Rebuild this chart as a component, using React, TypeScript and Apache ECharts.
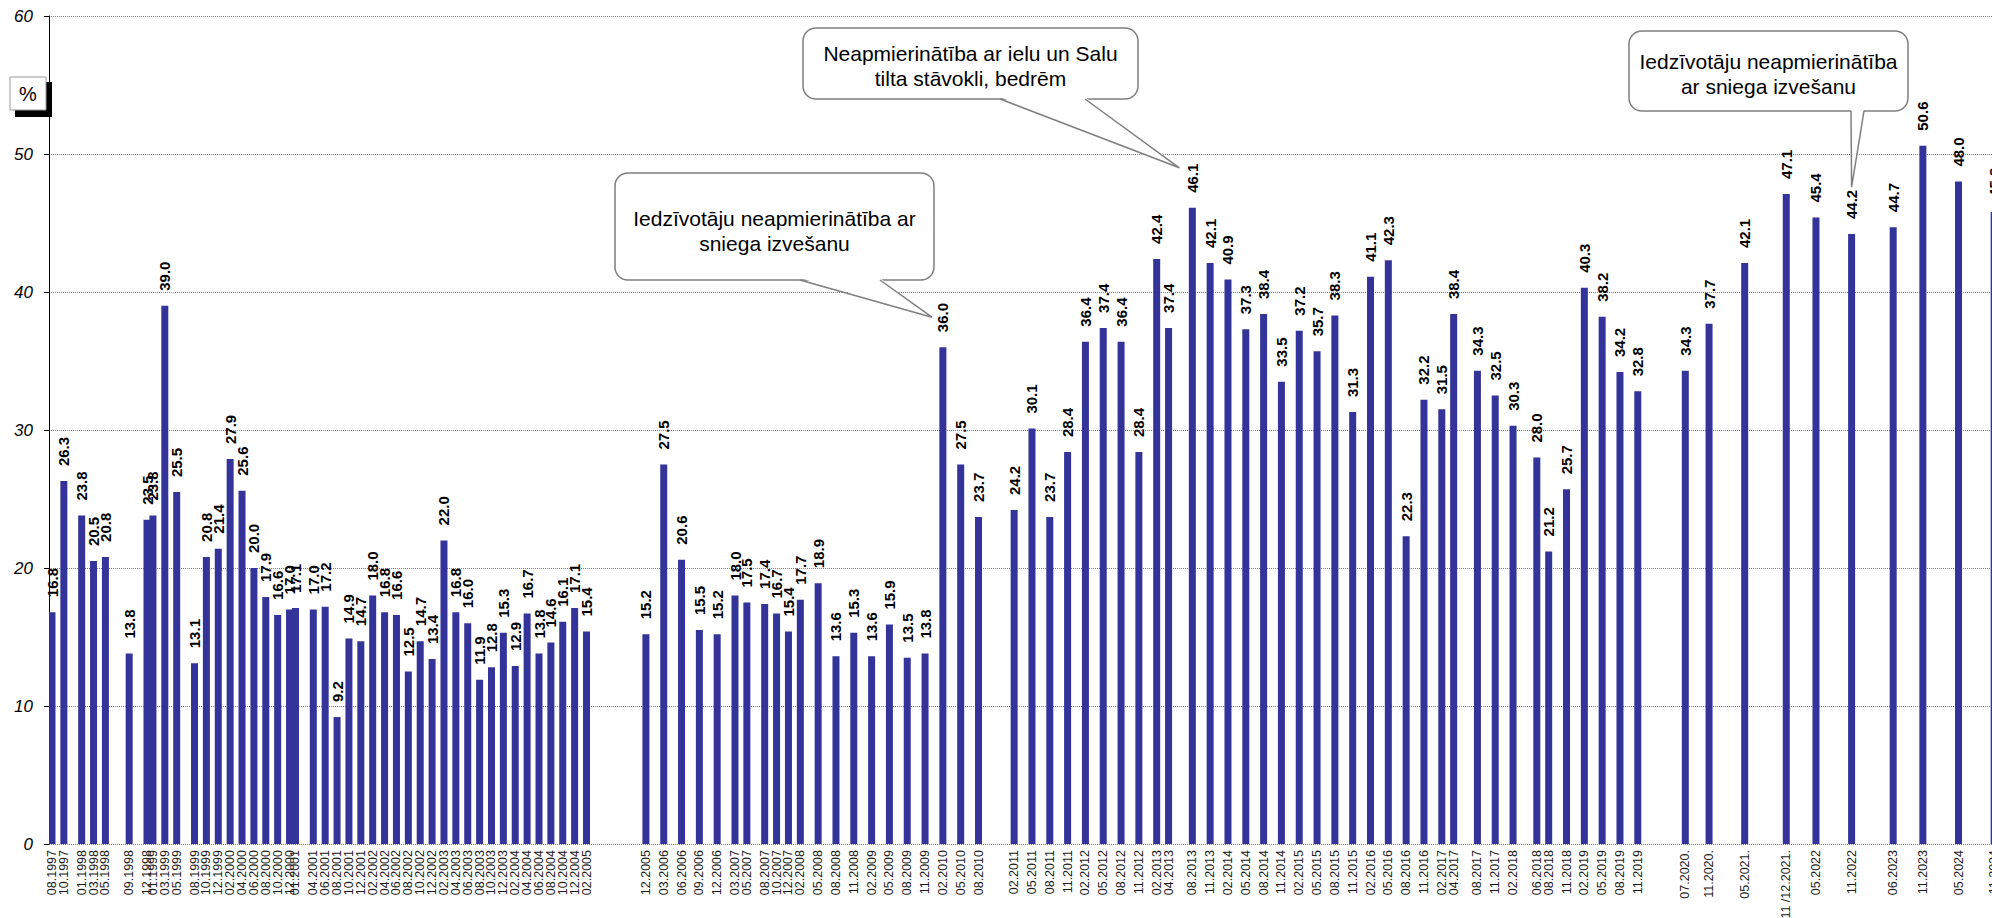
import React, { useEffect, useRef } from "react";
import * as echarts from "echarts";

// Survey periods (axis text) and share of dissatisfied residents, %
const periods: string[] = [
  "08.1997", "10.1997", "01.1998", "03.1998", "05.1998", "09.1998", "12.1998", "01.1999", "03.1999", "05.1999",
  "08.1999", "10.1999", "12.1999", "02.2000", "04.2000", "06.2000", "08.2000", "10.2000", "12.2000", "01.2001",
  "04.2001", "06.2001", "08.2001", "10.2001", "12.2001", "02.2002", "04.2002", "06.2002", "08.2002", "10.2002",
  "12.2002", "02.2003", "04.2003", "06.2003", "08.2003", "10.2003", "12.2003", "02.2004", "04.2004", "06.2004",
  "08.2004", "10.2004", "12.2004", "02.2005",
  "12.2005", "03.2006", "06.2006", "09.2006", "12.2006", "03.2007", "05.2007", "08.2007", "10.2007", "12.2007",
  "02.2008", "05.2008", "08.2008", "11.2008", "02.2009", "05.2009", "08.2009", "11.2009", "02.2010", "05.2010",
  "08.2010",
  "02.2011", "05.2011", "08.2011", "11.2011", "02.2012", "05.2012", "08.2012", "11.2012", "02.2013", "04.2013",
  "08.2013", "11.2013", "02.2014", "05.2014", "08.2014", "11.2014", "02.2015", "05.2015", "08.2015", "11.2015",
  "02.2016", "05.2016", "08.2016", "11.2016", "02.2017", "04.2017", "08.2017", "11.2017", "02.2018", "06.2018",
  "08.2018", "11.2018", "02.2019", "05.2019", "08.2019", "11.2019",
  "07.2020.", "11.2020.", "05.2021.", "11 /12.2021.", "05.2022", "11.2022", "06.2023", "11.2023", "05.2024", "11.2024",
];

const values: number[] = [
  16.8, 26.3, 23.8, 20.5, 20.8, 13.8, 23.5, 23.8, 39.0, 25.5,
  13.1, 20.8, 21.4, 27.9, 25.6, 20.0, 17.9, 16.6, 17.0, 17.1,
  17.0, 17.2, 9.2, 14.9, 14.7, 18.0, 16.8, 16.6, 12.5, 14.7,
  13.4, 22.0, 16.8, 16.0, 11.9, 12.8, 15.3, 12.9, 16.7, 13.8,
  14.6, 16.1, 17.1, 15.4,
  15.2, 27.5, 20.6, 15.5, 15.2, 18.0, 17.5, 17.4, 16.7, 15.4,
  17.7, 18.9, 13.6, 15.3, 13.6, 15.9, 13.5, 13.8, 36.0, 27.5,
  23.7,
  24.2, 30.1, 23.7, 28.4, 36.4, 37.4, 36.4, 28.4, 42.4, 37.4,
  46.1, 42.1, 40.9, 37.3, 38.4, 33.5, 37.2, 35.7, 38.3, 31.3,
  41.1, 42.3, 22.3, 32.2, 31.5, 38.4, 34.3, 32.5, 30.3, 28.0,
  21.2, 25.7, 40.3, 38.2, 34.2, 32.8,
  34.3, 37.7, 42.1, 47.1, 45.4, 44.2, 44.7, 50.6, 48.0, 45.8,
];

const yTicks = { min: 0, max: 60, interval: 10 };

// Month slots of the time axis: 08.1997 ... 01.2025
const firstYear = 1997;
const firstMonth = 8;
const slotCount = 330;

const callouts = [
  { text: "Iedzīvotāju neapmierinātība ar\nsniega izvešanu", target: "02.2010" },
  { text: "Neapmierinātība ar ielu un Salu\ntilta stāvokli, bedrēm", target: "08.2013" },
  { text: "Iedzīvotāju neapmierinātība\nar sniega izvešanu", target: "11.2022" },
];

const pad2 = (n: number) => (n < 10 ? "0" + n : "" + n);
const slotKey = (i: number) => {
  const m0 = firstMonth - 1 + i;
  return pad2((m0 % 12) + 1) + "." + (firstYear + Math.floor(m0 / 12));
};
const keyOf = (p: string) => {
  const all = p.match(/\d{2}\.\d{4}/g) || [p];
  return all[all.length - 1];
};

const categories: string[] = [];
for (let i = 0; i < slotCount; i++) categories.push(slotKey(i));
const labelByKey = new Map<string, string>();
const valueByKey = new Map<string, number>();
periods.forEach((p, i) => {
  labelByKey.set(keyOf(p), p);
  valueByKey.set(keyOf(p), values[i]);
});
const seriesData = categories.map((k) => (valueByKey.has(k) ? valueByKey.get(k)! : null));

const FONT = "'Liberation Sans', Arial, sans-serif";

// Callout layout (box rect, tail base, tail tip offset from the bar top)
const calloutLayout = [
  { x: 615, y: 173, w: 319, h: 107, b1: 800, b2: 880, dx: -11, dy: -30, ty: 231 },
  { x: 803, y: 28, w: 335, h: 71, b1: 1000, b2: 1085, dx: -13, dy: -40, ty: 66 },
  { x: 1629, y: 31, w: 279, h: 80, b1: 1851, b2: 1864, dx: 0, dy: -47, ty: 74 },
];

export default function App() {
  const ref = useRef<HTMLDivElement>(null);
  useEffect(() => {
    if (!ref.current) return;
    const chart = echarts.init(ref.current, undefined, { renderer: "svg" });
    chart.setOption({
      animation: false,
      backgroundColor: "#ffffff",
      grid: { left: 49, right: 0, top: 16, bottom: 74, containLabel: false, outerBoundsMode: "none" },
      xAxis: {
        type: "category",
        data: categories,
        boundaryGap: true,
        axisLine: { show: false },
        axisTick: { show: false },
        splitLine: { show: false },
        axisLabel: {
          interval: 0,
          rotate: 90,
          margin: 6,
          fontSize: 12.5,
          fontFamily: FONT,
          color: "#1a1a1a",
          formatter: (v: string) => labelByKey.get(v) ?? "",
        },
      },
      yAxis: {
        type: "value",
        min: yTicks.min,
        max: yTicks.max,
        interval: yTicks.interval,
        axisLine: { show: true, lineStyle: { color: "#000", width: 1 } },
        axisTick: { show: true, length: 5, lineStyle: { color: "#000" } },
        axisLabel: {
          margin: 16,
          fontSize: 17,
          fontStyle: "italic",
          fontFamily: FONT,
          color: "#000",
        },
        splitLine: { show: true, lineStyle: { color: "#7f7f7f", type: "dotted", width: 1 } },
      },
      series: [
        {
          type: "bar",
          data: seriesData,
          barWidth: 7,
          itemStyle: { color: "#333399" },
          label: {
            show: true,
            position: "top",
            rotate: 90,
            align: "left",
            verticalAlign: "middle",
            distance: 15,
            fontSize: 15,
            fontWeight: "bold",
            fontFamily: FONT,
            color: "#000",
            formatter: (p: any) => (p.value == null ? "" : Number(p.value).toFixed(1)),
          },
        },
      ],
    });

    const stroke = "#7f7f7f";
    const elements: any[] = [
      { type: "rect", z: 100, shape: { x: 15, y: 82, width: 37, height: 35 }, style: { fill: "#000" } },
      {
        type: "rect",
        z: 101,
        shape: { x: 10, y: 77, width: 36, height: 33 },
        style: { fill: "#fff", stroke: "#999", lineWidth: 1 },
      },
      {
        type: "text",
        z: 102,
        style: { text: "%", x: 28, y: 94, fill: "#000", fontSize: 20, fontFamily: FONT, align: "center", verticalAlign: "middle" },
      },
    ];
    callouts.forEach((c, i) => {
      const L = calloutLayout[i];
      const p = chart.convertToPixel({ xAxisIndex: 0, yAxisIndex: 0 }, [c.target, valueByKey.get(c.target)!]) as number[];
      const tip = [p[0] + L.dx, p[1] + L.dy];
      const by = L.y + L.h;
      elements.push(
        {
          type: "rect",
          z: 100,
          shape: { x: L.x, y: L.y, width: L.w, height: L.h, r: 13 },
          style: { fill: "#fff", stroke, lineWidth: 1.5 },
        },
        {
          type: "polygon",
          z: 101,
          shape: { points: [[L.b1, by - 2], [L.b2, by - 2], tip] },
          style: { fill: "#fff" },
        },
        {
          type: "polyline",
          z: 102,
          shape: { points: [[L.b1, by], tip, [L.b2, by]] },
          style: { stroke, lineWidth: 1.5, fill: "none" },
        },
        {
          type: "text",
          z: 103,
          style: {
            text: c.text,
            x: L.x + L.w / 2,
            y: L.ty,
            fill: "#000",
            fontSize: 21,
            fontFamily: FONT,
            lineHeight: 25,
            align: "center",
            verticalAlign: "middle",
          },
        }
      );
    });
    chart.setOption({ graphic: { elements } });
    return () => chart.dispose();
  }, []);

  return (
    <div style={{ position: "fixed", left: 0, top: 0, width: 1992, height: 918, overflow: "hidden", background: "#fff" }}>
      <div ref={ref} style={{ width: 2009, height: 918 }} />
    </div>
  );
}
